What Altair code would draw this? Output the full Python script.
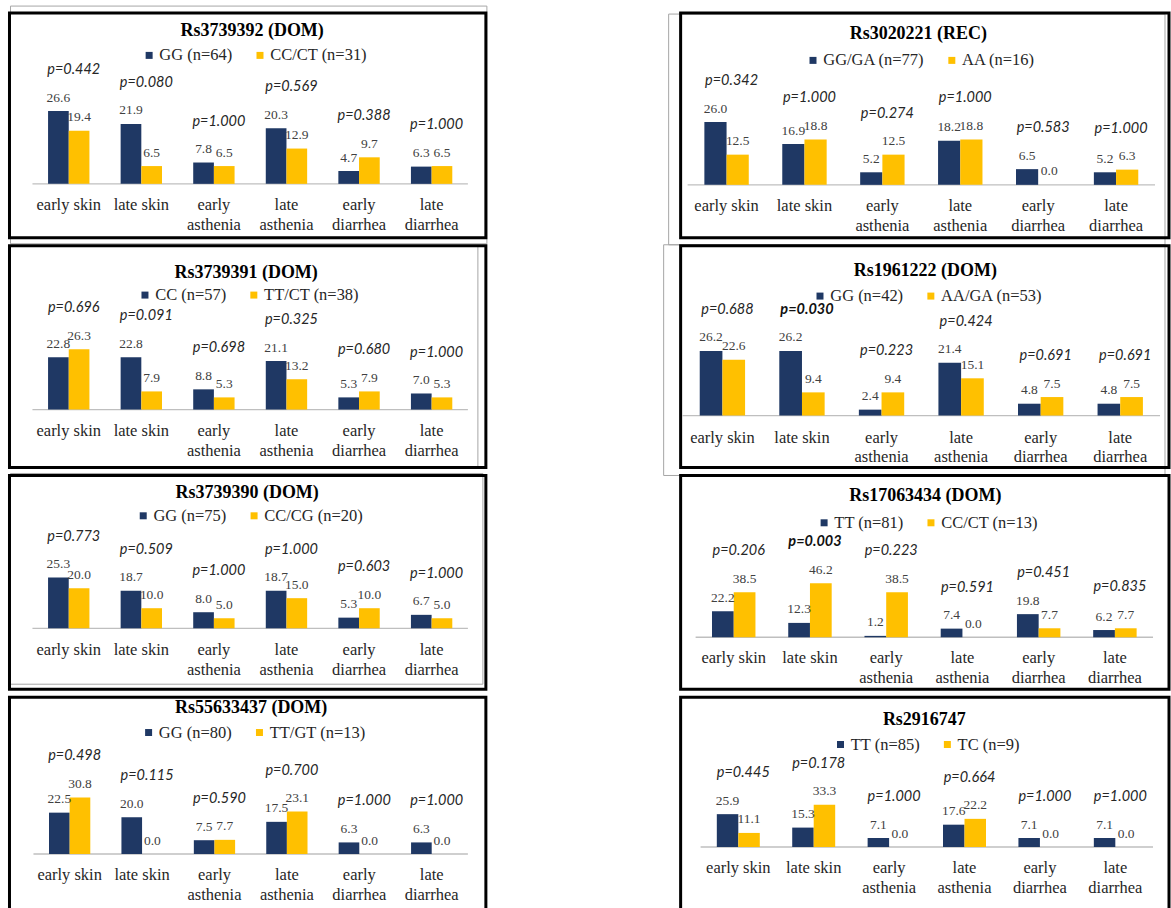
import altair as alt
import pandas as pd

# ---- shared categories -------------------------------------------------
CATEGORIES = ["early skin", "late skin", "early asthenia",
              "late asthenia", "early diarrhea", "late diarrhea"]
TICK_LABELS = ["early skin", "late skin", "early\nasthenia",
               "late\nasthenia", "early\ndiarrhea", "late\ndiarrhea"]

# ---- left column -------------------------------------------------------
TITLE_3739392 = "Rs3739392 (DOM)"
GROUPS_3739392 = ["GG (n=64)", "CC/CT (n=31)"]
REF_3739392 = [26.6, 21.9, 7.8, 20.3, 4.7, 6.3]
ALT_3739392 = [19.4, 6.5, 6.5, 12.9, 9.7, 6.5]
P_3739392 = [0.442, 0.080, 1.000, 0.569, 0.388, 1.000]

TITLE_3739391 = "Rs3739391 (DOM)"
GROUPS_3739391 = ["CC (n=57)", "TT/CT (n=38)"]
REF_3739391 = [22.8, 22.8, 8.8, 21.1, 5.3, 7.0]
ALT_3739391 = [26.3, 7.9, 5.3, 13.2, 7.9, 5.3]
P_3739391 = [0.696, 0.091, 0.698, 0.325, 0.680, 1.000]

TITLE_3739390 = "Rs3739390 (DOM)"
GROUPS_3739390 = ["GG (n=75)", "CC/CG (n=20)"]
REF_3739390 = [25.3, 18.7, 8.0, 18.7, 5.3, 6.7]
ALT_3739390 = [20.0, 10.0, 5.0, 15.0, 10.0, 5.0]
P_3739390 = [0.773, 0.509, 1.000, 1.000, 0.603, 1.000]

TITLE_55633437 = "Rs55633437 (DOM)"
GROUPS_55633437 = ["GG (n=80)", "TT/GT (n=13)"]
REF_55633437 = [22.5, 20.0, 7.5, 17.5, 6.3, 6.3]
ALT_55633437 = [30.8, 0.0, 7.7, 23.1, 0.0, 0.0]
P_55633437 = [0.498, 0.115, 0.590, 0.700, 1.000, 1.000]

# ---- right column ------------------------------------------------------
TITLE_3020221 = "Rs3020221 (REC)"
GROUPS_3020221 = ["GG/GA (n=77)", "AA (n=16)"]
REF_3020221 = [26.0, 16.9, 5.2, 18.2, 6.5, 5.2]
ALT_3020221 = [12.5, 18.8, 12.5, 18.8, 0.0, 6.3]
P_3020221 = [0.342, 1.000, 0.274, 1.000, 0.583, 1.000]

TITLE_1961222 = "Rs1961222 (DOM)"
GROUPS_1961222 = ["GG (n=42)", "AA/GA (n=53)"]
REF_1961222 = [26.2, 26.2, 2.4, 21.4, 4.8, 4.8]
ALT_1961222 = [22.6, 9.4, 9.4, 15.1, 7.5, 7.5]
P_1961222 = [0.688, 0.030, 0.223, 0.424, 0.691, 0.691]

TITLE_17063434 = "Rs17063434 (DOM)"
GROUPS_17063434 = ["TT (n=81)", "CC/CT (n=13)"]
REF_17063434 = [22.2, 12.3, 1.2, 7.4, 19.8, 6.2]
ALT_17063434 = [38.5, 46.2, 38.5, 0.0, 7.7, 7.7]
P_17063434 = [0.206, 0.003, 0.223, 0.591, 0.451, 0.835]

TITLE_2916747 = "Rs2916747"
GROUPS_2916747 = ["TT (n=85)", "TC (n=9)"]
REF_2916747 = [25.9, 15.3, 7.1, 17.6, 7.1, 7.1]
ALT_2916747 = [11.1, 33.3, 0.0, 22.2, 0.0, 0.0]
P_2916747 = [0.445, 0.178, 1.000, 0.664, 1.000, 1.000]

NAVY = "#1F3864"
GOLD = "#FFC000"
SERIF = "Liberation Serif"
PFONT = "Lato"
LEGEND_SIZE = 16.5
LEGEND_GAP = 19

LEFT_W, RIGHT_W = 477, 489
ROW_H = [225, 222, 214, 222]

# frame geometry per panel: baseline y, pixels per percent, baseline x-extent,
# title position, legend row, category-label row and the thin grey outline
# of the underlying chart area (x0, y0, x1, y1) where it shows
LAYOUT = {
    "3739392": dict(base=171, ppu=2.74, xr=(23, 459), tx=243, ty=18, ly=43, xl=192,
                    frame=(1, -7, 478, 231)),
    "3739391": dict(base=164, ppu=2.30, xr=(23, 459), tx=237, ty=27, ly=50, xl=185,
                    frame=(1, 0, 469, 221)),
    "3739390": dict(base=153, ppu=2.01, xr=(23, 459), tx=238, ty=18, ly=41, xl=175,
                    frame=(1, -2, 474, 209)),
    "55633437": dict(base=157, ppu=1.84, xr=(24, 459), tx=242, ty=11, ly=36, xl=178,
                     frame=None),
    "3020221": dict(base=172, ppu=2.42, xr=(7, 475), tx=238, ty=21, ly=48, xl=193,
                    frame=(-12, 1, 485, 232)),
    "1961222": dict(base=170, ppu=2.47, xr=(2, 480), tx=245, ty=25, ly=51, xl=192,
                    frame=(-17, -1, 485, 230)),
    "17063434": dict(base=162, ppu=1.17, xr=(15, 473), tx=245, ty=21, ly=48, xl=183,
                     frame=None),
    "2916747": dict(base=150, ppu=1.27, xr=(20, 473), tx=244, ty=23, ly=48, xl=171,
                    frame=None),
}

# advance widths of the serif face (per 1000 units), used to centre legends
SERIF_ADV = {"G": 722, "C": 667, "T": 611, "A": 722, "/": 278, " ": 250,
             "(": 333, ")": 333, "n": 500, "=": 564}


def text_width(s, size):
    return sum(SERIF_ADV.get(ch, 500) for ch in s) * size / 1000.0


def build_panel(title, groups, ref_vals, alt_vals, p_vals, g, width, height):
    bars_df = pd.DataFrame({
        "cat": CATEGORIES * 2,
        "grp": [groups[0]] * len(CATEGORIES) + [groups[1]] * len(CATEGORIES),
        "pct": list(ref_vals) + list(alt_vals),
    })
    p_df = pd.DataFrame({
        "cat": CATEGORIES,
        "gmax": [max(a, b) for a, b in zip(ref_vals, alt_vals)],
        "plabel": [f"p={p:.3f}" for p in p_vals],
        "sig": [bool(p < 0.05) for p in p_vals],
    })
    tick_df = pd.DataFrame({"cat": CATEGORIES, "tick": TICK_LABELS})
    title_df = pd.DataFrame({"t": [title]})
    zero_df = pd.DataFrame({"pct": [0.0]})
    one_df = pd.DataFrame({"k": [1]})

    top = 50.0
    xs = alt.Scale(domain=CATEGORIES, range=list(g["xr"]), paddingInner=0.43, paddingOuter=0.215)
    ys = alt.Scale(domain=[0, top], range=[g["base"], g["base"] - top * g["ppu"]], nice=False, zero=True)
    X = alt.X("cat:N", scale=xs, axis=None)
    XO = alt.XOffset("grp:N", scale=alt.Scale(domain=groups))

    legend_w = 2 * (7 + 5) + 21 + sum(text_width(t, LEGEND_SIZE) for t in groups)
    legend = alt.Legend(
        orient="none", legendX=g["tx"] + 6 - legend_w / 2 - 10, legendY=g["ly"] - 9,
        direction="horizontal", title=None, symbolType="square", symbolSize=49,
        symbolStrokeWidth=0, labelFont=SERIF, labelFontSize=LEGEND_SIZE,
        labelColor="#262626", labelOffset=2, columnPadding=LEGEND_GAP, padding=0, labelLimit=0,
    )
    color = alt.Color("grp:N", scale=alt.Scale(domain=groups, range=[NAVY, GOLD]), legend=legend)

    layers = []
    if g["frame"] is not None:
        fx0, fy0, fx1, fy1 = g["frame"]
        layers.append(
            alt.Chart(one_df).mark_rect(fillOpacity=0, stroke="#A6A6A6", strokeWidth=1).encode(
                x=alt.value(fx0), x2=alt.value(fx1), y=alt.value(fy0), y2=alt.value(fy1)
            )
        )
    layers.append(
        alt.Chart(zero_df).mark_rule(color="#BFBFBF", strokeWidth=1.3).encode(
            x=alt.value(g["xr"][0]), x2=alt.value(g["xr"][1]), y=alt.Y("pct:Q", scale=ys, axis=None)
        )
    )
    layers.append(
        alt.Chart(bars_df).mark_bar().encode(
            x=X, xOffset=XO, y=alt.Y("pct:Q", scale=ys, axis=None), color=color
        )
    )
    layers.append(
        alt.Chart(bars_df).mark_text(
            font=SERIF, fontSize=13.5, color="#404040", baseline="alphabetic", dy=-9.5
        ).encode(
            x=X, xOffset=XO, y=alt.Y("pct:Q", scale=ys, axis=None),
            text=alt.Text("pct:Q", format=".1f"),
        )
    )
    layers.append(
        alt.Chart(p_df).transform_filter("!datum.sig").mark_text(
            font=PFONT, fontStyle="italic", fontSize=14.5, color="#262626",
            baseline="alphabetic", dy=-37, dx=5,
        ).encode(x=X, y=alt.Y("gmax:Q", scale=ys, axis=None), text="plabel:N")
    )
    layers.append(
        alt.Chart(p_df).transform_filter("datum.sig").mark_text(
            font=PFONT, fontStyle="italic", fontWeight="bold", fontSize=14.5, color="#111111",
            baseline="alphabetic", dy=-37, dx=5,
        ).encode(x=X, y=alt.Y("gmax:Q", scale=ys, axis=None), text="plabel:N")
    )
    layers.append(
        alt.Chart(tick_df).mark_text(
            font=SERIF, fontSize=16.5, color="#262626", baseline="top",
            lineBreak="\n", lineHeight=20,
        ).encode(x=X, y=alt.value(g["xl"] - 8), text="tick:N")
    )
    layers.append(
        alt.Chart(title_df).mark_text(
            font=SERIF, fontSize=18, fontWeight="bold", color="#000000", baseline="middle", align="center"
        ).encode(x=alt.value(g["tx"]), y=alt.value(g["ty"]), text="t:N")
    )
    # heavy black box round the panel
    layers.append(
        alt.Chart(one_df).mark_rect(fillOpacity=0, stroke="#000000", strokeWidth=3).encode(
            x=alt.value(0), x2=alt.value(width), y=alt.value(0), y2=alt.value(height)
        )
    )
    return alt.layer(*layers).properties(width=width, height=height)


left_specs = [
    (TITLE_3739392, GROUPS_3739392, REF_3739392, ALT_3739392, P_3739392, LAYOUT["3739392"]),
    (TITLE_3739391, GROUPS_3739391, REF_3739391, ALT_3739391, P_3739391, LAYOUT["3739391"]),
    (TITLE_3739390, GROUPS_3739390, REF_3739390, ALT_3739390, P_3739390, LAYOUT["3739390"]),
    (TITLE_55633437, GROUPS_55633437, REF_55633437, ALT_55633437, P_55633437, LAYOUT["55633437"]),
]
right_specs = [
    (TITLE_3020221, GROUPS_3020221, REF_3020221, ALT_3020221, P_3020221, LAYOUT["3020221"]),
    (TITLE_1961222, GROUPS_1961222, REF_1961222, ALT_1961222, P_1961222, LAYOUT["1961222"]),
    (TITLE_17063434, GROUPS_17063434, REF_17063434, ALT_17063434, P_17063434, LAYOUT["17063434"]),
    (TITLE_2916747, GROUPS_2916747, REF_2916747, ALT_2916747, P_2916747, LAYOUT["2916747"]),
]

indep = dict(x="independent", y="independent", color="independent", xOffset="independent")

left_col = alt.vconcat(
    *[build_panel(*s, LEFT_W, h) for s, h in zip(left_specs, ROW_H)], spacing=8, bounds="flush"
).resolve_scale(**indep)
right_col = alt.vconcat(
    *[build_panel(*s, RIGHT_W, h) for s, h in zip(right_specs, ROW_H)], spacing=8, bounds="flush"
).resolve_scale(**indep)

chart = alt.hconcat(left_col, right_col, spacing=175).resolve_scale(**indep).properties(
    padding={"left": 7.5, "top": 4.5, "right": 0, "bottom": 0}, background="white"
).configure_view(strokeWidth=0)

chart.save("out.html", embed_options={"renderer": "svg", "actions": False})
